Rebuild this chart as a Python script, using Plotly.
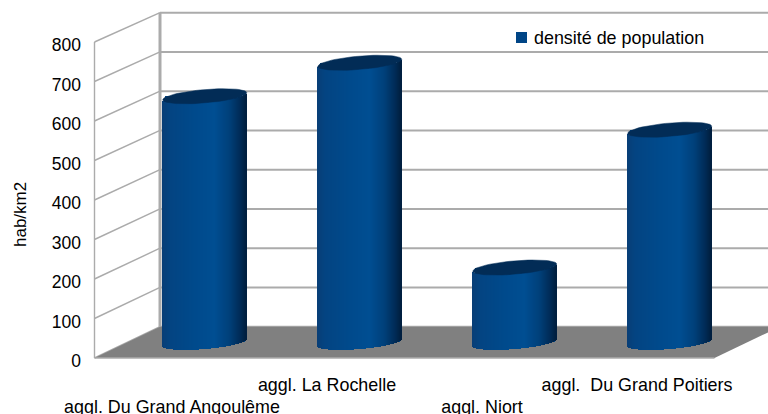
import math
import plotly.graph_objects as go

categories = ["aggl. Du Grand Angoulême", "aggl. La Rochelle", "aggl. Niort", "aggl.\u00a0 Du Grand Poitiers"]
densite = [625, 710, 190, 540]
tick_values = [0, 100, 200, 300, 400, 500, 600, 700, 800]
series_name = "densité de population"
axis_title = "hab/km2"

FONT = "Liberation Sans, Arial, sans-serif"
GRID = "#ababab"
W, H = 768, 414
ML, MB = 90, 50
PX_X = 155.0    # pixels per category
PX_Y = 0.395    # pixels per value unit
X0 = -0.5 - (94.5 - ML) / PX_X
X1 = X0 + (W - ML) / PX_X
Y0 = -(414 - MB - 358) / PX_Y
Y1 = Y0 + (H - MB) / PX_Y
DX, DY, SHRINK = 65.5 / PX_X, 79.2, 0.0063


def px(x, v, d=0.0):
    """Oblique projection of (category position, value, depth) on the axes."""
    return x + d * DX, v * (1 - SHRINK * d) + d * DY


xpos = list(range(len(categories)))
XL, XR = -0.5, len(categories) - 0.5
fig = go.Figure()


def poly(points, **kw):
    fig.add_trace(go.Scatter(x=[p[0] for p in points], y=[p[1] for p in points],
                             hoverinfo="skip", showlegend=False, **kw))


# walls
for v in tick_values:
    poly([px(XL, v, 0), px(XL, v, 1)], mode="lines", line=dict(color=GRID, width=1.4))
    poly([px(XL, v, 1), px(XR, v, 1)], mode="lines", line=dict(color=GRID, width=2))
poly([px(XL, 0, 0), px(XL, 800, 0)], mode="lines", line=dict(color=GRID, width=1.4))
poly([px(XL, 0, 1), px(XL, 800, 1)], mode="lines", line=dict(color=GRID, width=3))
# floor
poly([px(XL, 0, 0), px(XL, 0, 1), px(XR, 0, 1), px(XR, 0, 0), px(XL, 0, 0)],
     mode="lines", fill="toself", fillcolor="#808080", line=dict(width=0, color="#808080"))
poly([px(XL, 0, 0), px(XR, 0, 0)], mode="lines", line=dict(color=GRID, width=1.5))

# cylinders
HALF, TILT, MINOR = 42.0, 3.5, 6.7   # pixels
STOPS = [(-1.0, (8, 62, 118)), (-0.8, (3, 68, 130)), (-0.2, (0, 74, 140)), (0.25, (0, 78, 146)),
         (0.6, (0, 64, 122)), (0.85, (0, 44, 88)), (1.0, (0, 30, 62))]


def shade(u):
    for (a, ca), (b, cb) in zip(STOPS, STOPS[1:]):
        if u <= b:
            t = (u - a) / (b - a)
            c = [round(p + (q - p) * t) for p, q in zip(ca, cb)]
            return "rgb(%d,%d,%d)" % tuple(c)
    return "rgb(0,30,62)"


centre = [px(x, 0, 0.5) for x in xpos]
tops = [px(x, v, 0.5) for x, v in zip(xpos, densite)]

fig.add_trace(go.Bar(x=[c[0] for c in centre], y=[t[1] - c[1] for t, c in zip(tops, centre)],
                     base=[c[1] for c in centre], width=2 * 40 / PX_X, showlegend=False,
                     marker=dict(color="#004586", line=dict(width=0)), xaxis="x2", yaxis="y2",
                     hoverinfo="skip"))
N = 84
for i in range(N):
    u = -1 + (i + 0.5) * 2 / N
    off = u * HALF / PX_X
    curve = (TILT * u - MINOR * math.sqrt(1 - u * u)) / PX_Y
    fig.add_trace(go.Bar(x=[c[0] + off for c in centre],
                         base=[c[1] + curve for c in centre],
                         y=[t[1] - c[1] for t, c in zip(tops, centre)],
                         width=1.6 / PX_X, marker=dict(color=shade(u), line=dict(width=0)),
                         showlegend=False, hoverinfo="skip", xaxis="x2", yaxis="y2"))
for (tx, ty) in tops:
    pts = []
    for k in range(61):
        a = 2 * math.pi * k / 60
        pts.append((tx + HALF * math.cos(a) / PX_X,
                    ty + (TILT * math.cos(a) + MINOR * math.sin(a)) / PX_Y))
    poly(pts, mode="lines", fill="toself", fillcolor="#022c56",
         line=dict(width=0.5, color="#022c56"), xaxis="x2", yaxis="y2")

# legend key, placed like the reference's tight key/text gap
LEG_X = X0 + (521.5 - ML) / PX_X
LEG_Y = Y0 + (414 - MB - 37.5) / PX_Y
fig.add_trace(go.Scatter(x=[LEG_X], y=[LEG_Y], mode="markers", name=series_name,
                         marker=dict(symbol="square", size=11, color="#004586", line=dict(width=0)),
                         showlegend=False, hoverinfo="skip", cliponaxis=False,
                         xaxis="x2", yaxis="y2"))

common = dict(range=[X0, X1], showgrid=False, zeroline=False, showline=False, ticks="",
              tickmode="array", tickangle=0, tickfont=dict(family=FONT, size=17.9, color="#000"))
fig.update_layout(
    width=W, height=H, margin=dict(l=ML, r=0, t=0, b=MB, pad=0, autoexpand=False),
    paper_bgcolor="white", plot_bgcolor="white", barmode="overlay", bargap=0,
    font=dict(family=FONT, color="#000"), showlegend=False,
    xaxis=dict(tickvals=xpos[1::2], ticktext=categories[1::2], ticklabelstandoff=8, **common),
    xaxis2=dict(tickvals=xpos[0::2], ticktext=categories[0::2], ticklabelstandoff=30,
                overlaying="x", anchor="y2", side="bottom", **common),
    yaxis=dict(range=[Y0, Y1], showgrid=False, zeroline=False, showline=False, ticks="",
               tickmode="array", tickvals=tick_values, ticktext=[str(v) for v in tick_values],
               tickfont=dict(family=FONT, size=17.5, color="#000"),
               ticklabelstandoff=8, ticklabelshift=3),
    yaxis2=dict(range=[Y0, Y1], overlaying="y", anchor="x2", visible=False),
    annotations=[
        dict(text=axis_title, textangle=-90, xref="paper", yref="paper",
             x=(20 - ML) / (W - ML), y=1 - 215 / (H - MB), xanchor="center", yanchor="middle",
             showarrow=False, font=dict(family=FONT, size=17, color="#000")),
        dict(text=series_name, xref="paper", yref="paper",
             x=(532 - ML) / (W - ML), y=1 - 38 / (H - MB), xanchor="left", yanchor="middle",
             showarrow=False, font=dict(family=FONT, size=17.9, color="#000")),
    ],
)
fig.write_html("out.html", post_script="document.body.style.margin='0';", config=dict(displayModeBar=False))
